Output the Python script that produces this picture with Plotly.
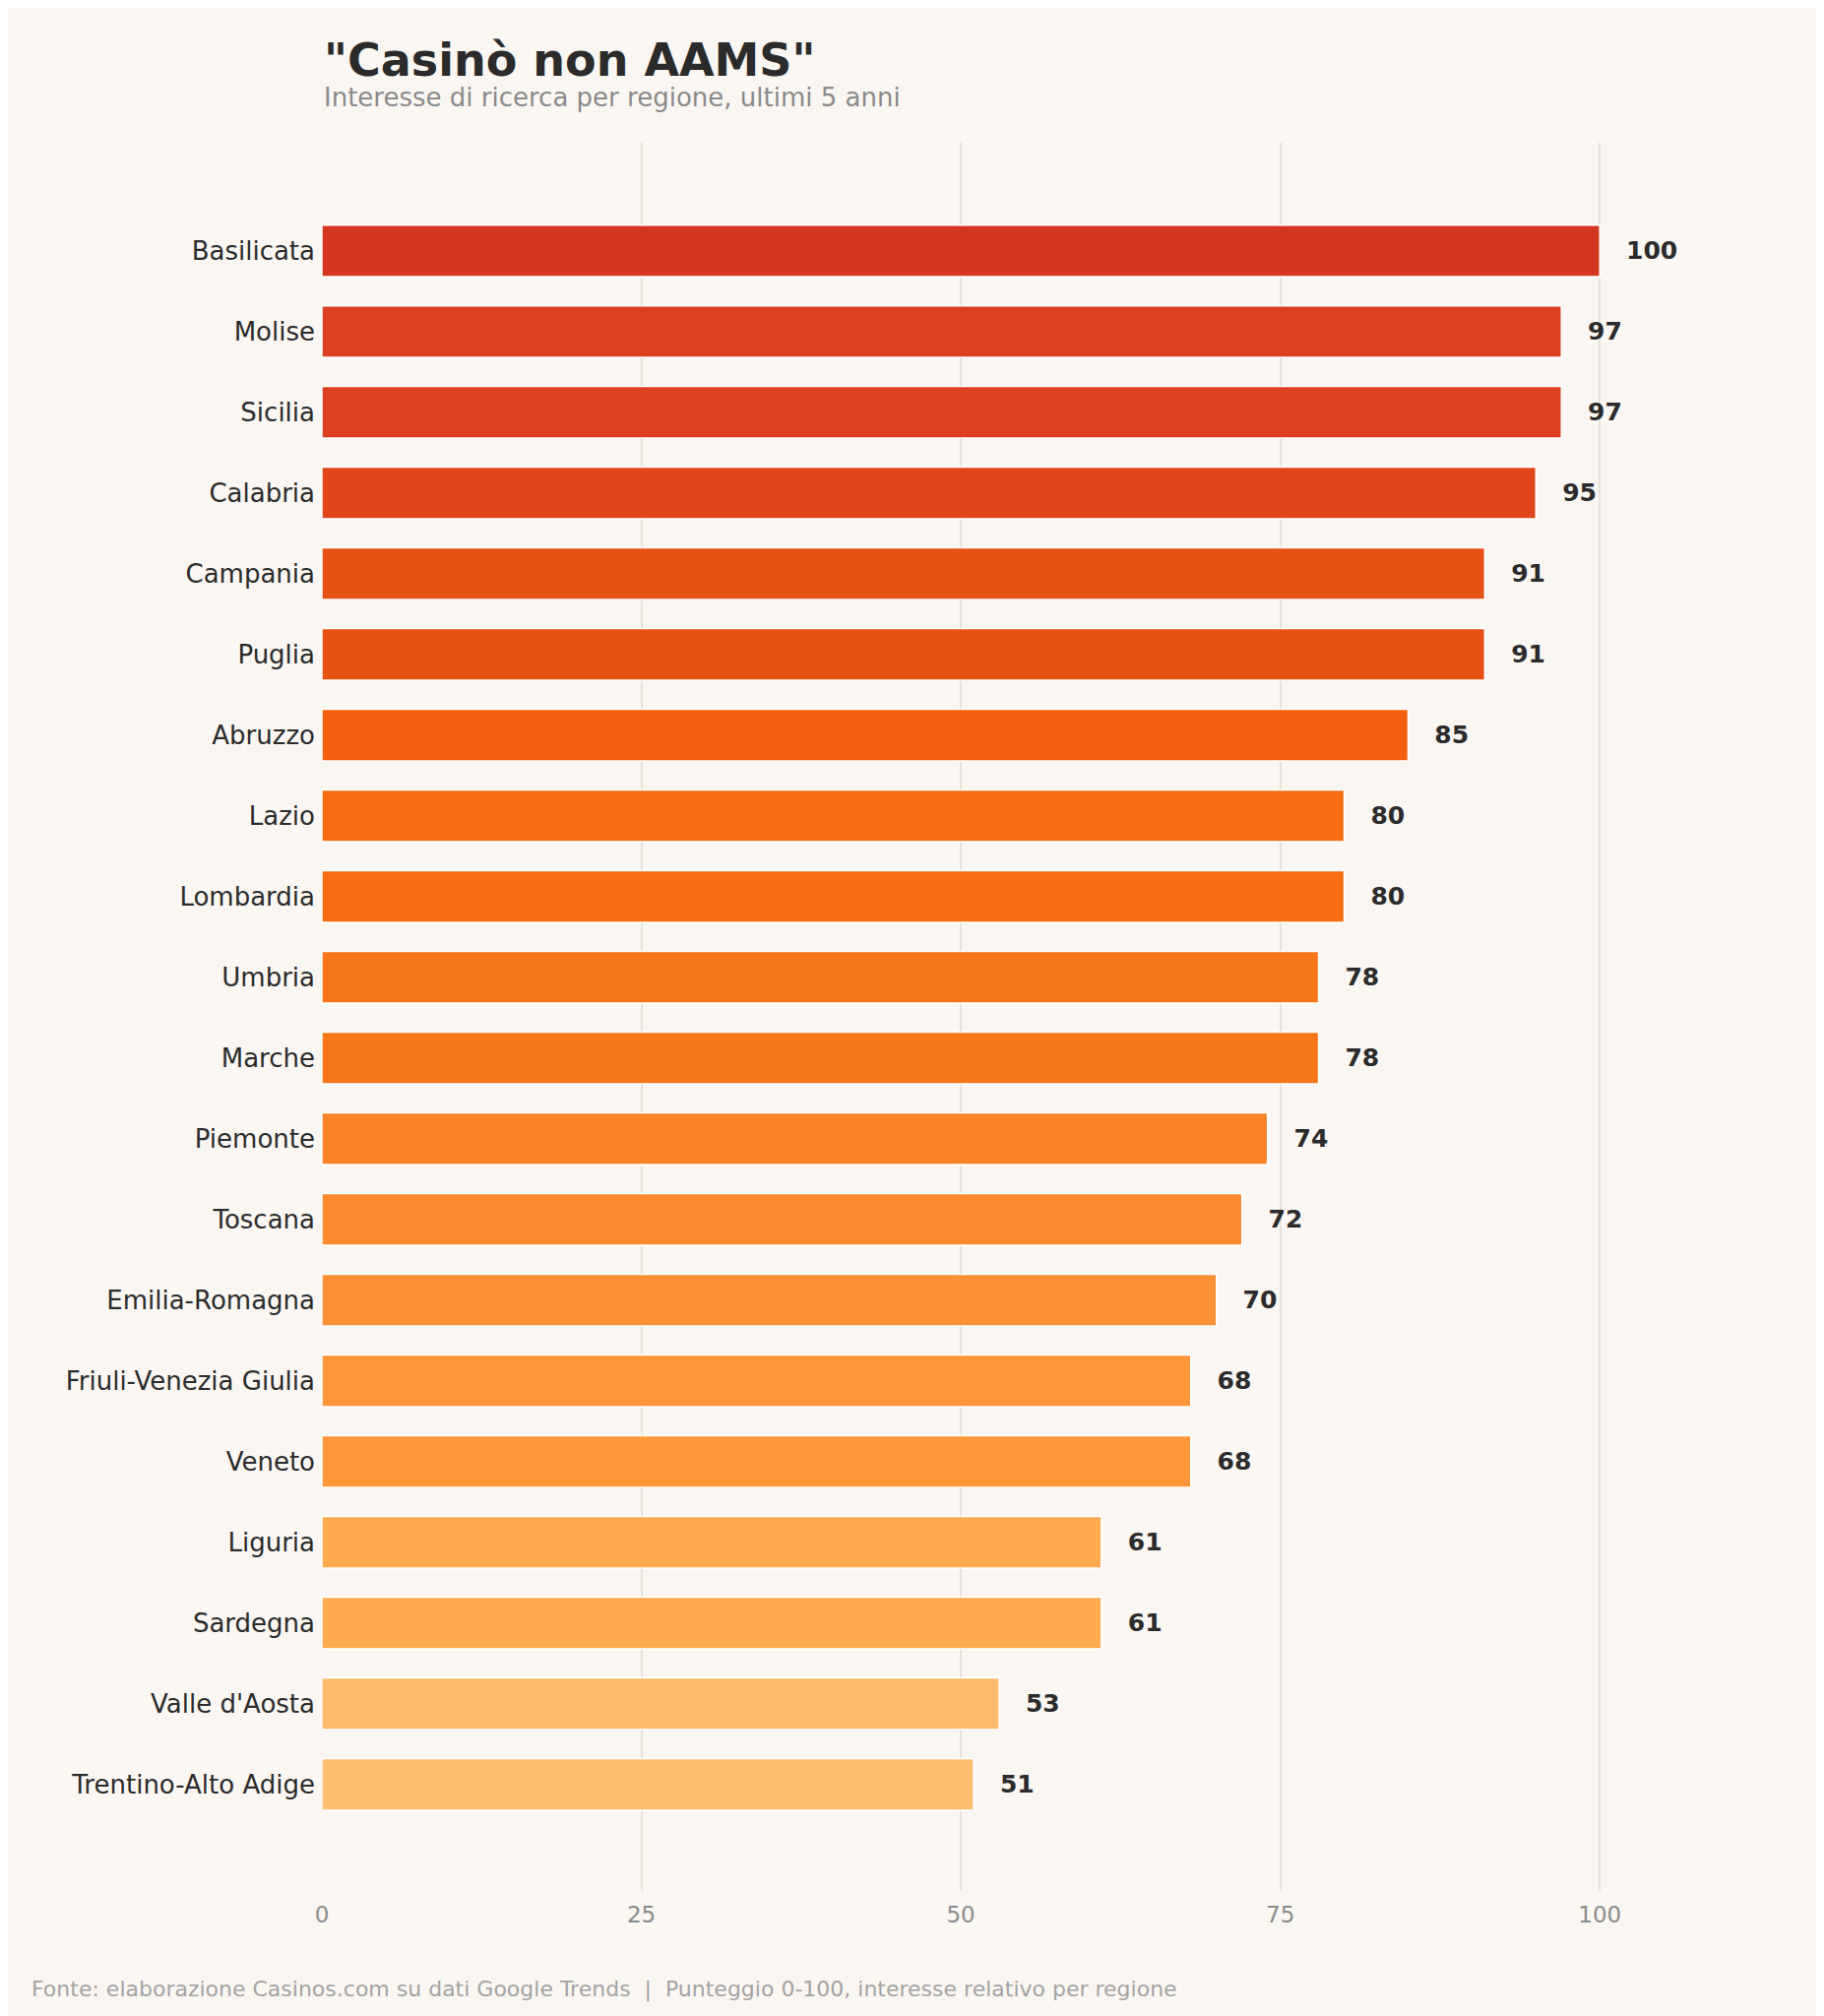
import plotly.graph_objects as go

regions = ['Basilicata', 'Molise', 'Sicilia', 'Calabria', 'Campania', 'Puglia', 'Abruzzo',
           'Lazio', 'Lombardia', 'Umbria', 'Marche', 'Piemonte', 'Toscana', 'Emilia-Romagna',
           'Friuli-Venezia Giulia', 'Veneto', 'Liguria', 'Sardegna', "Valle d'Aosta",
           'Trentino-Alto Adige']
scores = [100, 97, 97, 95, 91, 91, 85, 80, 80, 78, 78, 74, 72, 70, 68, 68, 61, 61, 53, 51]
x_ticks = [0, 25, 50, 75, 100]

# colour ramp, dark red for the top down to light orange
colors = ['#D4371F', '#DB4020', '#DB4020', '#DF461B', '#E65214', '#E65214', '#F35F0E',
          '#F76D11', '#F76D11', '#F7761A', '#F7761A', '#F98226', '#FA8A2E', '#FB9034',
          '#FC9638', '#FC9638', '#FDAA50', '#FDAA50', '#FDBA6D', '#FDBE72']

fig = go.Figure(go.Bar(
    x=scores, y=regions, orientation='h',
    marker=dict(color=colors, line=dict(color='white', width=1.5)),
    text=['   <b>%d</b>' % s for s in scores],
    textposition='outside', cliponaxis=False,
    textfont=dict(size=25, color='#2B2B2B', family='DejaVu Sans'),
    width=0.64,
))

fig.update_layout(
    width=1853, height=2048,
    paper_bgcolor='#FAF7F2', plot_bgcolor='#FAF7F2',
    font=dict(family='DejaVu Sans', color='#2B2B2B'),
    margin=dict(l=319, r=93, t=137, b=135),
    showlegend=False,
    xaxis=dict(range=[0, 111], tickvals=x_ticks, showgrid=True, gridcolor='#E6E1D9', gridwidth=2,
               zeroline=False, showline=False, tickfont=dict(size=23, color='#8A8A8A'), ticks='',
               ticklabelstandoff=8),
    yaxis=dict(categoryorder='array', categoryarray=regions, range=[20.32, -1.34],
               showgrid=False, tickfont=dict(size=26, color='#2B2B2B'), ticks='',
               ticklabelstandoff=6),
)
fig.add_annotation(text='<b>"Casinò non AAMS"</b>', xref='paper', yref='paper', x=0, y=1,
                   yshift=84, xanchor='left', yanchor='middle', showarrow=False,
                   font=dict(size=46, color='#2B2B2B'))
fig.add_annotation(text='Interesse di ricerca per regione, ultimi 5 anni', xref='paper', yref='paper',
                   x=0, y=1, yshift=46, xanchor='left', yanchor='middle', showarrow=False,
                   font=dict(size=26, color='#8A8A8A'))
fig.add_annotation(text='Fonte: elaborazione Casinos.com su dati Google Trends  |  Punteggio 0-100, interesse relativo per regione',
                   xref='paper', yref='paper', x=0, y=0, xshift=-297, yshift=-100,
                   xanchor='left', yanchor='middle', showarrow=False,
                   font=dict(size=22, color='#A3A3A3'))

fig.write_html('out.html')
